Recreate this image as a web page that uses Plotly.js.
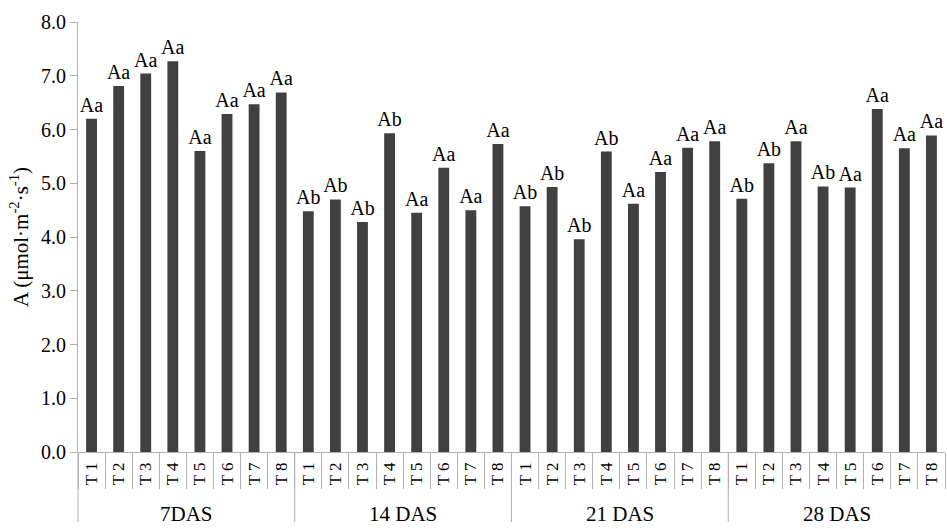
<!DOCTYPE html>
<html>
<head>
<meta charset="utf-8">
<script src="https://cdn.plot.ly/plotly-3.0.1.min.js"></script>
<style>html,body{margin:0;padding:0;background:#fff;}#chart{width:947px;height:529px;}</style>
</head>
<body>
<div id="chart"></div>
<script>
var groups = ["7DAS", "14 DAS", "21 DAS", "28 DAS"];
var treatments = ["T 1", "T 2", "T 3", "T 4", "T 5", "T 6", "T 7", "T 8"];
var das7  = [6.20, 6.81, 7.04, 7.27, 5.60, 6.29, 6.47, 6.69];
var das14 = [4.48, 4.70, 4.28, 5.93, 4.45, 5.29, 4.50, 5.73];
var das21 = [4.57, 4.93, 3.96, 5.59, 4.62, 5.21, 5.66, 5.78];
var das28 = [4.71, 5.37, 5.78, 4.94, 4.92, 6.38, 5.65, 5.89];
var lab7  = ["Aa","Aa","Aa","Aa","Aa","Aa","Aa","Aa"];
var lab14 = ["Ab","Ab","Ab","Ab","Aa","Aa","Aa","Aa"];
var lab21 = ["Ab","Ab","Ab","Ab","Aa","Aa","Aa","Aa"];
var lab28 = ["Ab","Ab","Aa","Ab","Aa","Aa","Aa","Aa"];

var series = [das7, das14, das21, das28];
var labels = [lab7, lab14, lab21, lab28];
var ids = [], tickText = [], y = [], t = [];
for (var g = 0; g < groups.length; g++) {
  for (var i = 0; i < treatments.length; i++) {
    ids.push(groups[g] + '|' + treatments[i]);
    tickText.push(treatments[i]);
    y.push(series[g][i]); t.push(labels[g][i]);
  }
}
var N = ids.length, per = treatments.length;
var serif = 'Liberation Serif, Times New Roman, serif';
var grey = '#b0b0b0';

var annotations = [], shapes = [];
for (var g = 0; g < groups.length; g++) {
  annotations.push({
    xref: 'paper', yref: 'paper', x: (g * per + per / 2) / N, y: -0.177,
    xanchor: 'center', yanchor: 'bottom', showarrow: false,
    text: groups[g], font: {family: serif, size: 21, color: '#000'}
  });
  shapes.push({
    type: 'line', xref: 'paper', yref: 'paper',
    x0: g * per / N, x1: g * per / N, y0: 0, y1: -0.163,
    line: {color: grey, width: 1}
  });
}

var trace = {
  type: 'bar', x: ids, y: y, text: t,
  textposition: 'outside', constraintext: 'none', cliponaxis: false,
  textfont: {family: serif, size: 20, color: '#000'},
  marker: {color: '#404040', line: {width: 0}},
  width: 0.4, hoverinfo: 'none'
};
var layout = {
  width: 947, height: 529,
  margin: {l: 78, r: 2, t: 22, b: 77},
  paper_bgcolor: '#fff', plot_bgcolor: '#fff',
  showlegend: false,
  font: {family: serif, color: '#000'},
  xaxis: {
    type: 'category', tickmode: 'array', tickvals: ids, ticktext: tickText,
    tickangle: -90, ticklabelstandoff: 6,
    tickfont: {family: serif, size: 17, color: '#000'},
    showline: false,
    ticks: 'outside', ticklen: 36, tickcolor: grey, tickson: 'boundaries',
    showgrid: false, zeroline: false
  },
  yaxis: {
    range: [0, 8], dtick: 1, tickformat: '.1f',
    tickfont: {family: serif, size: 20, color: '#000'},
    showline: true, linecolor: grey, linewidth: 1,
    ticks: 'outside', ticklen: 7, tickcolor: grey,
    showgrid: false, zeroline: true, zerolinecolor: grey, zerolinewidth: 1,
    title: {text: 'A (μmol·m<sup>-2</sup>·s<sup>-1</sup>)', font: {family: serif, size: 21, color: '#000'}, standoff: 6}
  },
  annotations: annotations,
  shapes: shapes
};
Plotly.newPlot('chart', [trace], layout, {staticPlot: true});
</script>
</body>
</html>
